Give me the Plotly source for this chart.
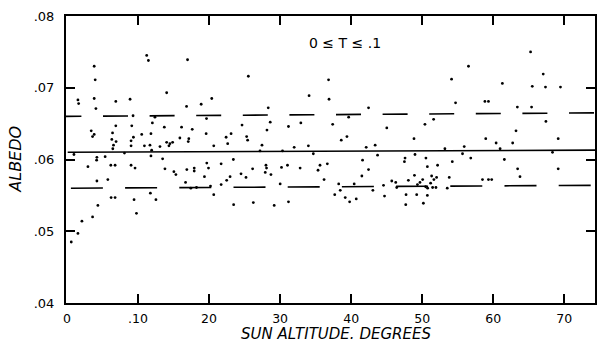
import plotly.graph_objects as go

# Sun altitude (degrees) and albedo
sun_altitude = [
    11.22, 11.46, 16.97, 3.83, 3.97, 14.03, 1.54, 1.64, 3.83, 6.87, 8.88, 16.83, 4.07, 9.30, 12.38,
    12.02, 6.87, 9.12, 13.70, 16.13, 17.63, 3.41, 3.83, 3.60, 6.41, 10.52, 11.82, 9.35, 9.02, 6.31,
    6.91, 15.89, 17.15, 17.07, 14.03, 14.49, 14.87, 14.35, 6.55, 9.02, 10.90, 11.68, 13.09, 6.45, 11.92,
    8.09, 0.98, 11.82, 4.21, 4.17, 5.37, 13.46, 2.95, 6.17, 6.77, 9.02, 9.58, 13.79, 15.05, 15.33,
    16.87, 17.91, 17.91, 5.75, 4.21, 16.69, 17.43, 18.23, 11.74, 6.21, 6.77, 9.44, 12.52, 4.35, 9.78,
    3.60, 2.10, 1.54, 0.60,
    25.53, 20.38, 18.89, 28.33, 34.08, 36.82, 36.89, 19.64,
    28.61, 24.64, 28.15, 31.18, 32.92, 19.59, 23.10, 22.40, 25.29, 25.43, 22.62, 20.66, 27.45, 31.98,
    33.98, 27.17, 30.34, 34.68, 23.42, 19.68, 21.70, 19.92, 28.01, 28.09, 26.13, 30.20, 31.04, 32.82,
    35.62, 36.65, 35.34, 24.50, 27.91, 28.71, 19.35, 22.96, 22.48, 25.20, 36.19, 21.70, 30.01, 20.20,
    20.66, 23.46, 26.23, 29.17, 31.18,
    42.45, 54.14, 54.70, 39.65, 51.61, 37.40, 45.02, 50.39, 48.85, 38.61, 39.41, 42.12, 43.38, 53.20,
    43.72, 48.99, 47.59, 47.50, 50.53, 41.61, 54.24, 50.73, 52.17, 42.45, 41.51, 48.91, 48.06, 50.07,
    51.33, 52.03, 51.65, 53.81, 45.72, 46.28, 49.69, 51.19, 38.25, 40.43, 44.56, 46.42, 49.33, 50.49,
    50.77, 51.47, 51.94, 43.06, 38.47, 37.69, 47.73, 49.23, 50.73, 44.70, 39.17, 40.72, 39.79, 47.69,
    50.17, 53.53,
    56.52, 65.26, 67.04, 61.29, 65.50, 67.36, 69.47, 58.83, 59.33, 63.40, 65.40, 67.42, 63.21, 58.95,
    69.15, 60.41, 62.74, 55.92, 60.97, 55.68, 68.35, 56.84, 61.57, 63.44, 69.15, 63.77, 58.49, 59.33,
    59.79,
]

albedo = [
    .0745, .0738, .0739, .0730, .0711, .0693, .0683, .0678, .0685, .0681, .0684, .0674, .0671, .0661, .0659,
    .0651, .0647, .0647, .0645, .0645, .0642, .0640, .0635, .0632, .0637, .0635, .0636, .0631, .0626, .0628,
    .0625, .0630, .0629, .0625, .0624, .0622, .0624, .0619, .0620, .0619, .0619, .0620, .0618, .0615, .0613,
    .0609, .0607, .0605, .0603, .0599, .0604, .0601, .0590, .0592, .0592, .0592, .0588, .0587, .0583, .0579,
    .0586, .0588, .0584, .0572, .0570, .0568, .0560, .0561, .0553, .0547, .0547, .0544, .0544, .0536, .0525,
    .0520, .0514, .0497, .0485,
    .0716, .0685, .0677, .0672, .0689, .0711, .0684, .0657,
    .0652, .0648, .0641, .0646, .0651, .0636, .0636, .0631, .0632, .0627, .0622, .0619, .0620, .0617,
    .0619, .0612, .0612, .0608, .0600, .0595, .0594, .0588, .0592, .0588, .0587, .0589, .0592, .0588,
    .0592, .0594, .0585, .0580, .0582, .0579, .0576, .0576, .0571, .0575, .0572, .0565, .0566, .0563,
    .0551, .0537, .0540, .0536, .0541,
    .0672, .0712, .0679, .0659, .0656, .0649, .0644, .0649, .0629, .0627, .0632, .0617, .0620, .0615,
    .0606, .0607, .0602, .0597, .0602, .0599, .0597, .0590, .0592, .0586, .0577, .0578, .0571, .0572,
    .0577, .0575, .0572, .0575, .0570, .0568, .0568, .0567, .0566, .0566, .0564, .0561, .0565, .0562,
    .0560, .0561, .0561, .0557, .0557, .0551, .0551, .0551, .0550, .0549, .0547, .0545, .0541, .0537,
    .0539, .0560,
    .0730, .0750, .0719, .0706, .0702, .0701, .0701, .0681, .0681, .0673, .0673, .0653, .0640, .0629,
    .0629, .0623, .0623, .0618, .0615, .0608, .0610, .0602, .0600, .0587, .0587, .0576, .0572, .0572,
    .0572,
]

# Mean and +/- bands (start, end)
mean_x = [0.1, 74.4]
mean_albedo = [0.0610, 0.0613]
upper_x = [-1.49, 74.4]
upper_albedo = [0.0660, 0.0665]
lower_x = [0.55, 74.4]
lower_albedo = [0.0560, 0.0564]

x_tick_vals = [0, 10, 20, 30, 40, 50, 60, 70]
x_tick_text = ["0", ".10", "20", "30", "40", "50", "60", "70"]
y_tick_vals = [0.04, 0.05, 0.06, 0.07, 0.08]
y_tick_text = [".04", ".05", ".06", ".07", ".08"]

FONT = "DejaVu Sans"

fig = go.Figure()
fig.add_trace(go.Scatter(x=mean_x, y=mean_albedo, mode="lines",
                         line=dict(color="black", width=1.6), hoverinfo="skip"))
fig.add_trace(go.Scatter(x=upper_x, y=upper_albedo, mode="lines",
                         line=dict(color="black", width=1.6, dash="25px,21.6px"), hoverinfo="skip"))
fig.add_trace(go.Scatter(x=lower_x, y=lower_albedo, mode="lines",
                         line=dict(color="black", width=1.6, dash="32px,22.2px"), hoverinfo="skip"))
fig.add_trace(go.Scatter(x=sun_altitude, y=albedo, mode="markers",
                         marker=dict(color="black", size=2.8, line=dict(width=0))))

fig.add_annotation(x=39.1, y=0.0762, xref="x", yref="y", text="0 ≤ T ≤ .1",
                   showarrow=False, font=dict(family=FONT, size=14, color="black"))
fig.add_annotation(x=0.51, y=-0.1429, xref="paper", yref="paper", text="<i>SUN ALTITUDE. DEGREES</i>",
                   showarrow=False, yanchor="bottom", borderpad=0,
                   font=dict(family=FONT, size=15, color="black"))
fig.add_annotation(x=-0.096, y=0.5, xref="paper", yref="paper", text="<i>ALBEDO</i>",
                   showarrow=False, textangle=-90, xanchor="center", yanchor="middle",
                   font=dict(family=FONT, size=16, color="black"))

fig.update_xaxes(range=[-0.14, 74.33], tickvals=x_tick_vals, ticktext=x_tick_text,
                 ticks="inside", ticklen=9, tickwidth=2, tickcolor="black",
                 showline=True, linecolor="black", linewidth=2, mirror="allticks",
                 showgrid=False, zeroline=False, ticklabelstandoff=3,
                 tickfont=dict(family=FONT, size=12.5, color="black"))
fig.update_yaxes(range=[0.04, 0.08], tickvals=y_tick_vals, ticktext=y_tick_text,
                 ticks="inside", ticklen=9, tickwidth=2, tickcolor="black",
                 showline=True, linecolor="black", linewidth=2, mirror="allticks",
                 showgrid=False, zeroline=False, ticklabelstandoff=7,
                 tickfont=dict(family=FONT, size=13, color="black"))

fig.update_layout(width=599, height=345, margin=dict(l=66, r=2, t=16, b=42),
                  paper_bgcolor="white", plot_bgcolor="white", showlegend=False)

fig.write_html("out.html")
